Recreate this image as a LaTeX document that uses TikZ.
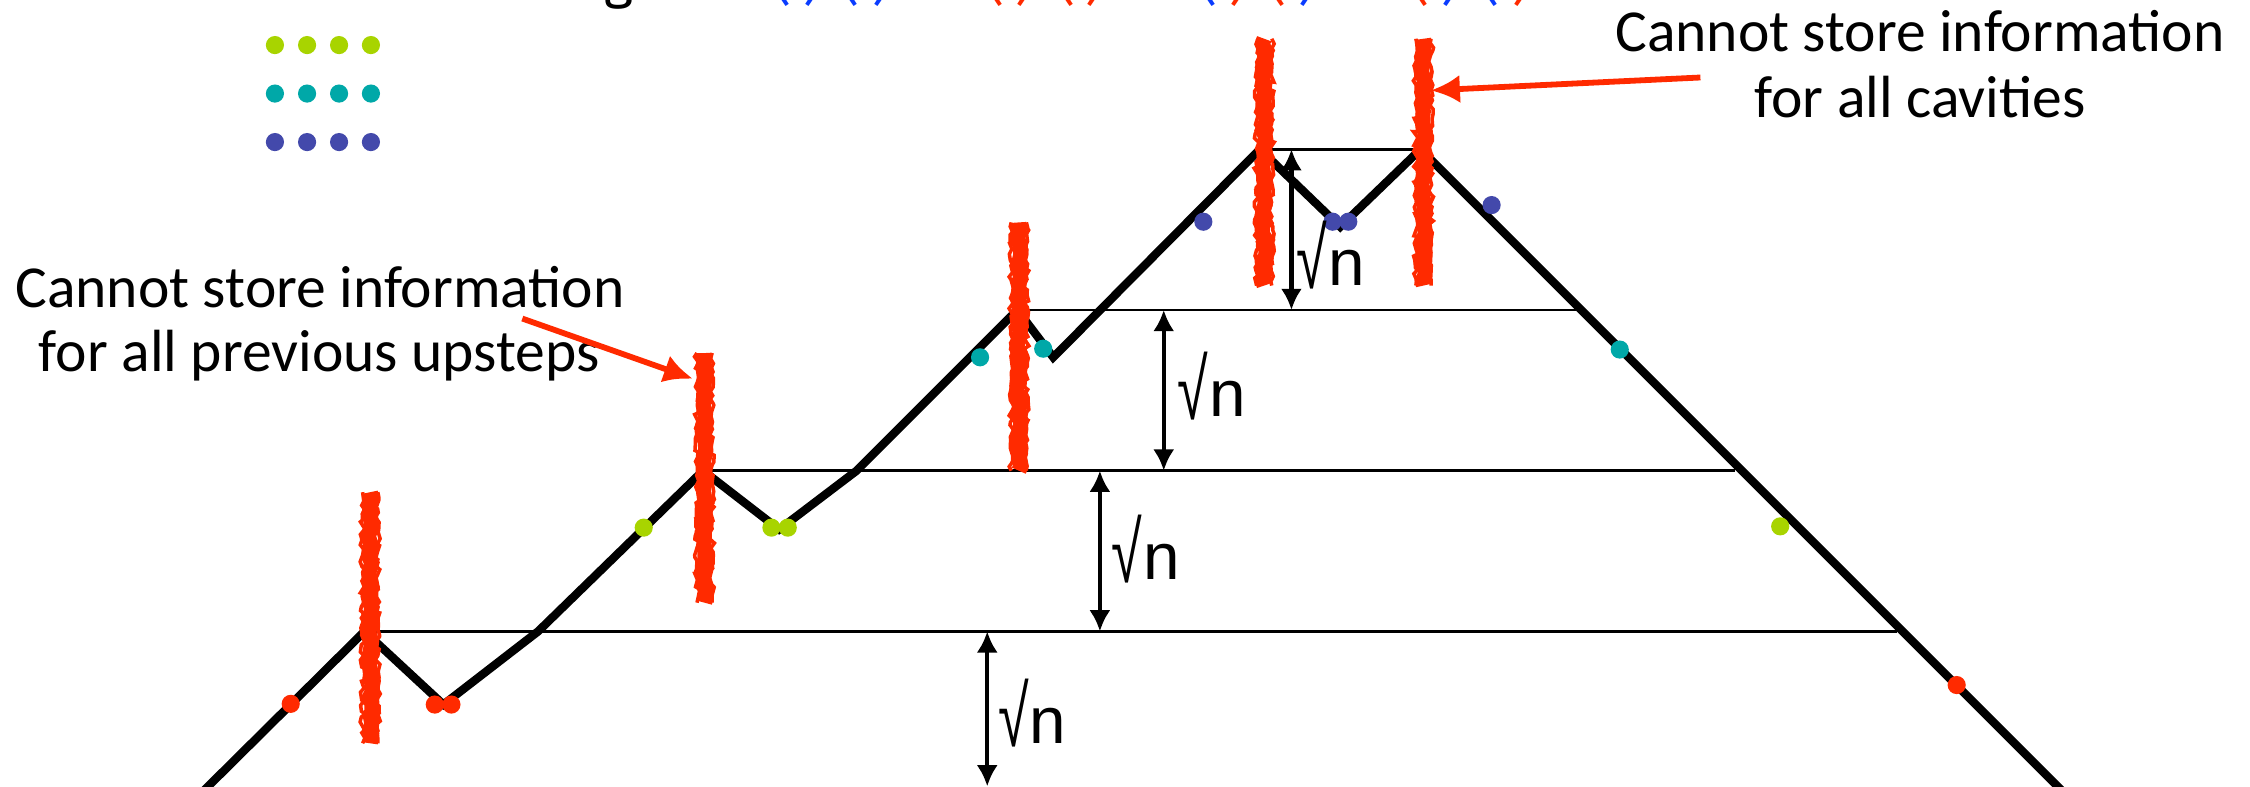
\documentclass[tikz,border=0pt]{standalone}
\usepackage{fontspec}
\setmainfont{Carlito}
\newfontfamily\toptextfont{Fira Sans}
\newfontfamily\sqfont{Liberation Sans}
\usetikzlibrary{arrows.meta,decorations.pathmorphing}
\definecolor{crayred}{HTML}{FF2A00}
\definecolor{dotgreen}{HTML}{A8D400}
\definecolor{dotteal}{HTML}{00A8A8}
\definecolor{dotblue}{HTML}{4349AB}
\definecolor{parblue}{HTML}{0A3CFF}
\definecolor{parred}{HTML}{FF2A00}
\tikzset{
  pathline/.style={line width=1.65pt, black},
  levelline/.style={line width=0.5pt, black},
  pdot/.style={circle, fill=#1, draw=none, inner sep=0pt, minimum size=3.6pt},
  dimarrow/.style={line width=0.85pt, {Latex[length=4.2pt,width=4.2pt]}-{Latex[length=4.2pt,width=4.2pt]}},
  redarrow/.style={line width=1.15pt, crayred, -{Latex[length=5.8pt,width=5.6pt]}},
  lbl/.style={font=\fontsize{11.8}{13}\selectfont, inner sep=0pt, anchor=base},
  sqlbl/.style={font=\sqfont\fontsize{13}{14}\selectfont, inner sep=0pt, anchor=base west},
  crayon/.style={crayred, line width=3pt, decorate, decoration={random steps, segment length=1.2pt, amplitude=0.45pt}},
  crayonedge/.style={crayred, line width=0.7pt, decorate, decoration={random steps, segment length=0.9pt, amplitude=0.5pt}},
  topchar/.style={font=\toptextfont\fontsize{11}{13}\selectfont, inner sep=0pt, anchor=base}
}
\newcommand{\crayonbar}[2]{%
  \draw[crayon] (#1) -- (#2);
  \draw[crayonedge] ([xshift=-1.5pt]#1) -- ([xshift=-1.5pt]#2);
  \draw[crayonedge] ([xshift=1.5pt]#1) -- ([xshift=1.5pt]#2);
}
\newcommand{\sqn}{\raisebox{-0.6pt}{\scalebox{0.85}[1.3]{√}}\kern0.2pt n}
\begin{document}
\begin{tikzpicture}[x=0.01cm,y=-0.01cm]
\pgfmathsetseed{4242}
\useasboundingbox (0,0) rectangle (1568,548);

% path coordinates
\coordinate (s)  at (138,555);
\coordinate (pA) at (254,440);
\coordinate (vA) at (309,491);
\coordinate (cA) at (375,440);
\coordinate (pB) at (490,328);
\coordinate (vB) at (543,369);
\coordinate (cB) at (597,328);
\coordinate (pC) at (709,216);
\coordinate (vC) at (734,249);
\coordinate (pD) at (878,104);
\coordinate (vD) at (934,158);
\coordinate (pE) at (990,104);
\coordinate (e)  at (1441,555);
% right ends of level lines
\coordinate (r2) at (1098,216);
\coordinate (r3) at (1209,328);
\coordinate (r4) at (1322,440);

% level lines
\draw[levelline] (pD) -- (pE);
\draw[levelline] (pC) -- (r2);
\draw[levelline] (pB) -- (r3);
\draw[levelline] (pA) -- (r4);

% the path
\draw[pathline] (s) -- (pA) -- (vA) -- (cA) -- (pB) -- (vB) -- (cB) -- (pC) -- (vC) -- (pD) -- (vD) -- (pE) -- (e);

% dots on the path
\node[pdot=crayred]  (d1)  at (202.6,490.5) {};
\node[pdot=crayred]  (d2)  at (303,491) {};
\node[pdot=crayred]  (d3)  at (314.6,491) {};
\node[pdot=dotgreen] (d4)  at (448.6,367.7) {};
\node[pdot=dotgreen] (d5)  at (537.6,367.7) {};
\node[pdot=dotgreen] (d6)  at (549,367.7) {};
\node[pdot=dotteal]  (d7)  at (683,249) {};
\node[pdot=dotteal]  (d8)  at (727,243) {};
\node[pdot=dotblue]  (d9)  at (838.6,154.5) {};
\node[pdot=dotblue]  (d10) at (928.7,154.5) {};
\node[pdot=dotblue]  (d11) at (939.6,154.5) {};
\node[pdot=dotblue]  (d12) at (1039.5,142.9) {};
\node[pdot=dotteal]  (d13) at (1128.8,243.6) {};
\node[pdot=dotgreen] (d14) at (1240.6,366.8) {};
\node[pdot=crayred]  (d15) at (1363.6,477.4) {};

% legend dots
\foreach \c [count=\r] in {dotgreen,dotteal,dotblue}{
  \foreach \x [count=\k] in {191.6,214,236.3,258.5}{
    \node[pdot=\c] (lg\r\k) at (\x,{31.4+33.8*(\r-1)}) {};
  }
}

% crayon bars
\coordinate (bAt) at (258,343); \coordinate (bAb) at (258,518);
\coordinate (bBt) at (491,246); \coordinate (bBb) at (491,420);
\coordinate (bCt) at (710,155); \coordinate (bCb) at (710,328);
\coordinate (bDt) at (881,27);  \coordinate (bDb) at (881,199);
\coordinate (bEt) at (992,27);  \coordinate (bEb) at (992,199);
\crayonbar{bAt}{bAb}
\crayonbar{bBt}{bBb}
\crayonbar{bCt}{bCb}
\crayonbar{bDt}{bDb}
\crayonbar{bEt}{bEb}

% dimension arrows
\coordinate (a1t) at (900,104);   \coordinate (a1b) at (900,216);
\coordinate (a2t) at (811,216);   \coordinate (a2b) at (811,328);
\coordinate (a3t) at (766.5,328); \coordinate (a3b) at (766.5,440);
\coordinate (a4t) at (688,440);   \coordinate (a4b) at (688,548);
\draw[dimarrow] (a1t) -- (a1b);
\draw[dimarrow] (a2t) -- (a2b);
\draw[dimarrow] (a3t) -- (a3b);
\draw[dimarrow] (a4t) -- (a4b);
\node[sqlbl] (sq1) at (903,199) {\sqn};
\node[sqlbl] (sq2) at (820,290) {\sqn};
\node[sqlbl] (sq3) at (774,404) {\sqn};
\node[sqlbl] (sq4) at (695,518) {\sqn};

% labels
\node[lbl] (lt1) at (223,214) {Cannot store information};
\node[lbl] (lt2) at (222.5,259) {for all previous upsteps};
\node[lbl] (rt1) at (1338,36) {Cannot store information};
\node[lbl] (rt2) at (1338,82) {for all cavities};

% red arrows
\coordinate (la) at (364,222); \coordinate (lat) at (483,264);
\coordinate (ra) at (1185,54); \coordinate (rat) at (997,63);
\draw[redarrow] (la) -- (lat);
\draw[redarrow] (ra) -- (rat);

% cut-off top line of text
\node[topchar] (tg) at (431,-2) {g};
\foreach \x/\c/\ch [count=\i] in {
  545/parblue/(, 566/parblue/), 593/parblue/(, 614/parblue/),
  694/parred/(, 714/parred/), 743/parred/(, 763/parred/),
  842/parblue/(, 863/parred/), 890/parred/(, 911/parblue/),
  990/parred/(, 1011/parblue/), 1039/parblue/(, 1060/parred/)}{
  \node[topchar, text=\c] (tp\i) at (\x,-1) {\ch};
}
\end{tikzpicture}
\end{document}
